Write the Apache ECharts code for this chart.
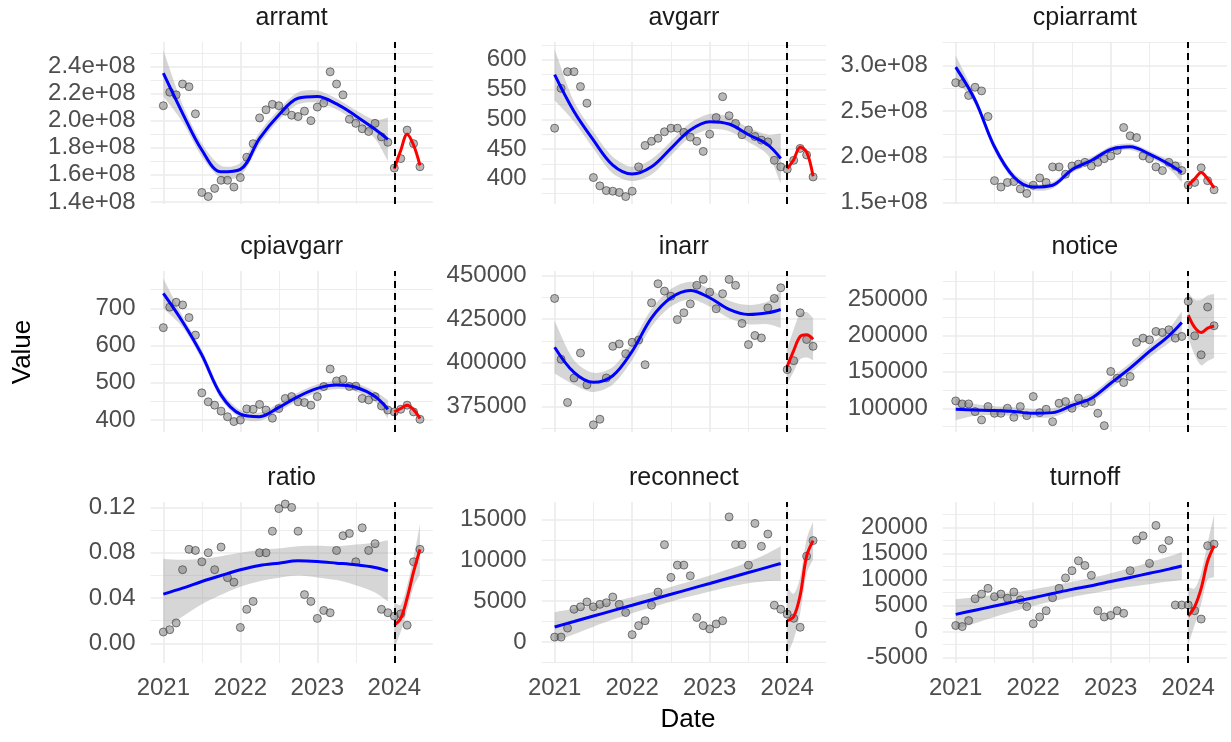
<!DOCTYPE html>
<html><head><meta charset="utf-8">
<script src="https://cdn.jsdelivr.net/npm/echarts@6/dist/echarts.min.js"></script>
<style>html,body{margin:0;padding:0;background:#fff}#c{width:1231px;height:742px}</style>
</head><body><div id="c"></div>
<script>
// ---------------- data ----------------
const dates = ['2021-01','2021-02','2021-03','2021-04','2021-05','2021-06','2021-07','2021-08','2021-09','2021-10','2021-11','2021-12',
  '2022-01','2022-02','2022-03','2022-04','2022-05','2022-06','2022-07','2022-08','2022-09','2022-10','2022-11','2022-12',
  '2023-01','2023-02','2023-03','2023-04','2023-05','2023-06','2023-07','2023-08','2023-09','2023-10','2023-11','2023-12',
  '2024-01','2024-02','2024-03','2024-04','2024-05'];
const fitDates = ['2021-01','2021-04','2021-07','2021-10','2022-01','2022-04','2022-07','2022-10','2023-01','2023-04','2023-07','2023-10','2023-12'];
const predDates = ['2024-01','2024-02','2024-03','2024-04','2024-05'];
const xTickLabels = ['2021','2022','2023','2024'];
const cutDate = '2024-01';
const panelNames = ['arramt','avgarr','cpiarramt','cpiavgarr','inarr','notice','ratio','reconnect','turnoff'];

const arramt_points = [2.11e8,2.21e8,2.19e8,2.27e8,2.25e8,2.05e8,1.47e8,1.44e8,1.50e8,1.56e8,1.56e8,1.51e8,1.58e8,1.73e8,1.83e8,2.02e8,2.08e8,2.12e8,2.11e8,2.07e8,2.04e8,2.03e8,2.07e8,2.00e8,2.10e8,2.13e8,2.36e8,2.27e8,2.19e8,2.01e8,1.98e8,1.94e8,1.92e8,1.98e8,1.88e8,1.84e8,1.65e8,1.72e8,1.93e8,1.83e8,1.66e8];
const arramt_fit = [2.35e8,2.054e8,1.783e8,1.622e8,1.640e8,1.869e8,2.042e8,2.165e8,2.178e8,2.123e8,2.035e8,1.936e8,1.862e8];
const arramt_se = [0.17e8,0.065e8,0.05e8,0.045e8,0.048e8,0.045e8,0.04e8,0.045e8,0.045e8,0.04e8,0.042e8,0.07e8,0.16e8];
const arramt_pred = [1.645e8,1.78e8,1.90e8,1.82e8,1.67e8];
const arramt_pred_se = [0.02e8,0.015e8,0.015e8,0.015e8,0.04e8];

const avgarr_points = [485,552,580,580,555,527,402,388,380,379,377,370,379,420,456,463,468,479,485,485,478,470,463,446,475,503,538,506,493,474,482,471,465,462,431,420,416,431,451,440,403];
const avgarr_fit = [575,513,465,423,408,420,451,482,496,492,474,457,434];
const avgarr_se = [43,17,14,14,12,13,12,12,13,12,12,17,42];
const avgarr_pred = [417,432,453,445,404];
const avgarr_pred_se = [4,4,4,4,6];

const cpiarramt_points = [2.81e8,2.80e8,2.67e8,2.76e8,2.72e8,2.44e8,1.74e8,1.67e8,1.72e8,1.73e8,1.65e8,1.60e8,1.69e8,1.77e8,1.72e8,1.89e8,1.89e8,1.81e8,1.90e8,1.92e8,1.94e8,1.90e8,1.94e8,1.98e8,2.01e8,2.07e8,2.32e8,2.23e8,2.21e8,2.01e8,1.98e8,1.89e8,1.85e8,1.94e8,1.90e8,1.85e8,1.69e8,1.72e8,1.88e8,1.74e8,1.64e8];
const cpiarramt_fit = [2.98e8,2.62e8,2.11e8,1.78e8,1.67e8,1.69e8,1.86e8,1.96e8,2.08e8,2.11e8,2.03e8,1.92e8,1.83e8];
const cpiarramt_se = [0.13e8,0.05e8,0.045e8,0.04e8,0.035e8,0.035e8,0.035e8,0.035e8,0.035e8,0.035e8,0.035e8,0.05e8,0.11e8];
const cpiarramt_pred = [1.69e8,1.76e8,1.83e8,1.76e8,1.66e8];
const cpiarramt_pred_se = [0.02e8,0.015e8,0.015e8,0.015e8,0.02e8];

const cpiavgarr_points = [648,703,716,709,675,628,473,449,440,424,409,396,400,430,429,442,427,405,431,458,463,449,447,440,463,490,537,505,509,490,491,458,454,463,438,427,422,429,440,422,402];
const cpiavgarr_fit = [740,664,575,467,416,409,434,463,485,494,488,463,429];
const cpiavgarr_se = [40,15,13,12,11,11,11,11,11,11,11,14,25];
const cpiavgarr_pred = [422,431,440,428,404];
const cpiavgarr_pred_se = [4,4,4,4,5];

const inarr_points = [436800,402000,377300,391300,405600,387400,364500,367700,391300,409400,410800,405200,411700,413000,398900,434300,445200,441000,438100,424700,428600,433700,444300,447700,440400,430900,439500,447700,444300,422500,410400,415600,414200,431400,436800,442900,396100,401200,428600,413300,409400];
const inarr_fit = [408900,394500,388800,392600,406600,425700,437200,441400,437200,430500,427600,428600,430500];
const inarr_se = [15000,7000,5500,5000,5000,5000,5000,5000,5000,5000,5500,6500,10500];
const inarr_pred = [398000,407000,415000,416000,413500];
const inarr_pred_se = [10000,12000,13000,13000,12000];

const notice_points = [110100,106000,106000,95400,84000,102300,93100,93100,100000,87600,102300,89900,116100,94000,98600,81600,106900,109200,100000,113800,106900,109200,93100,76100,150500,141300,135300,143600,190400,196300,194000,205500,204100,207800,196300,198600,246800,199500,173400,239000,213300];
const notice_fit = [98600,97700,96800,95400,93100,94000,104000,113800,134400,155000,178000,199500,217900];
const notice_se = [15000,8000,6000,6000,6000,6000,6000,6000,6500,7000,8000,10000,15000];
const notice_pred = [228000,211000,204000,210000,213000];
const notice_pred_se = [31000,38000,45000,45000,44000];

const ratio_points = [0.010,0.012,0.018,0.065,0.083,0.082,0.072,0.080,0.065,0.085,0.058,0.054,0.014,0.030,0.037,0.080,0.080,0.099,0.119,0.123,0.120,0.099,0.043,0.037,0.022,0.029,0.027,0.082,0.095,0.097,0.072,0.102,0.082,0.088,0.030,0.027,0.024,0.026,0.016,0.072,0.083];
const ratio_fit = [0.0434,0.0487,0.0546,0.0599,0.0649,0.0687,0.0708,0.0728,0.0722,0.0708,0.0693,0.0669,0.0640];
const ratio_se = [0.031,0.025,0.020,0.017,0.015,0.014,0.013,0.013,0.014,0.015,0.018,0.022,0.027];
const ratio_pred = [0.016,0.022,0.040,0.063,0.083];
const ratio_pred_se = [0.02,0.012,0.011,0.013,0.022];

const reconnect_points = [600,600,1700,4000,4300,4900,4300,4600,4800,5500,4600,3600,900,2000,2600,4500,6100,11900,7900,9400,9400,8100,3000,2000,1600,2200,2600,15300,11900,11900,9400,14500,11700,13200,4500,4000,3400,2900,1800,10500,12400];
const reconnect_fit = [1840,2500,3170,3840,4500,5170,5830,6500,7160,7830,8490,9160,9600];
const reconnect_se = [1800,1550,1300,1100,980,920,900,920,980,1100,1300,1700,2100];
const reconnect_pred = [2600,3100,5700,10500,12400];
const reconnect_pred_se = [4100,2800,2200,2100,2300];

const turnoff_points = [1150,960,2100,6300,7200,8300,6700,7200,6400,7600,6100,4800,1500,2800,4000,6500,8300,10300,11700,13600,12700,10800,4000,2800,3100,4000,3500,11700,17600,18400,13100,20400,15900,17500,5100,5100,5100,4000,2400,16500,16800];
const turnoff_fit = [3300,4100,4900,5700,6500,7300,8100,8800,9600,10400,11200,12000,12600];
const turnoff_se = [2900,2500,2100,1800,1600,1500,1450,1500,1600,1800,2100,2400,2700];
const turnoff_pred = [3000,4800,8300,13500,16500];
const turnoff_pred_se = [5500,3500,3000,3500,6000];

// ---------------- layout / options ----------------
const sci = v => (v / 1e8).toFixed(1) + 'e+08';
const int = v => String(Math.round(v));
const dp2 = v => v.toFixed(2);
const panels = [
  {pts: arramt_points, fit: arramt_fit, se: arramt_se, pred: arramt_pred, pse: arramt_pred_se, min: 1.385e8, max: 2.58e8, step: 0.2e8, fmt: sci},
  {pts: avgarr_points, fit: avgarr_fit, se: avgarr_se, pred: avgarr_pred, pse: avgarr_pred_se, min: 357.5, max: 630, step: 50, fmt: int},
  {pts: cpiarramt_points, fit: cpiarramt_fit, se: cpiarramt_se, pred: cpiarramt_pred, pse: cpiarramt_pred_se, min: 1.485e8, max: 3.254e8, step: 0.5e8, fmt: sci},
  {pts: cpiavgarr_points, fit: cpiavgarr_fit, se: cpiavgarr_se, pred: cpiavgarr_pred, pse: cpiavgarr_pred_se, min: 368, max: 800, step: 100, fmt: int},
  {pts: inarr_points, fit: inarr_fit, se: inarr_se, pred: inarr_pred, pse: inarr_pred_se, min: 360400, max: 452500, step: 25000, fmt: int},
  {pts: notice_points, fit: notice_fit, se: notice_se, pred: notice_pred, pse: notice_pred_se, min: 67400, max: 288500, step: 50000, fmt: int},
  {pts: ratio_points, fit: ratio_fit, se: ratio_se, pred: ratio_pred, pse: ratio_pred_se, min: -0.0174, max: 0.1248, step: 0.04, fmt: dp2},
  {pts: reconnect_points, fit: reconnect_fit, se: reconnect_se, pred: reconnect_pred, pse: reconnect_pred_se, min: -2570, max: 17120, step: 5000, fmt: int},
  {pts: turnoff_points, fit: turnoff_fit, se: turnoff_se, pred: turnoff_pred, pse: turnoff_pred_se, min: -6050, max: 24900, step: 5000, fmt: int}
];

const colLeft = [150.5, 541.7, 942.8];
const colWidth = [282.3, 284.3, 284.2];
const rowTop = [42, 271, 502];
const rowHeight = [162, 161, 161];

const dec = s => { const p = s.split('-').map(Number); return p[0] + (p[1] - 1) / 12; };
const xs = dates.map(dec), fx = fitDates.map(dec), px = predDates.map(dec);
const xCut = dec(cutDate);

const FONT = '"Liberation Sans", Arial, Helvetica, sans-serif';
const GRID = '#ebebeb';
const BAND = 'rgba(153,153,153,0.4)';
const onStep = (v, step) => { const k = v / step; return Math.abs(k - Math.round(k)) < 1e-6; };

const grids = [], xAxes = [], yAxes = [], series = [], graphics = [];
panels.forEach((p, i) => {
  const c = i % 3, r = Math.floor(i / 3);
  grids.push({left: colLeft[c], top: rowTop[r], width: colWidth[c], height: rowHeight[r], containLabel: false});
  xAxes.push({
    type: 'value', gridIndex: i, min: dec('2021-01') - 2 / 12, max: dec('2024-05') + 2 / 12,
    minInterval: 1, maxInterval: 1,
    axisLine: {show: false}, axisTick: {show: false},
    axisLabel: {show: r === 2, margin: 13, color: '#4d4d4d', fontSize: 24, fontFamily: FONT,
      showMinLabel: false, showMaxLabel: false,
      formatter: v => { const k = Math.round(v); return (Math.abs(v - k) < 1e-6 && xTickLabels.includes(String(k))) ? String(k) : ''; }},
    splitLine: {show: true, showMinLine: false, showMaxLine: false, lineStyle: {color: GRID, width: 1.6}},
    minorTick: {show: false, splitNumber: 2},
    minorSplitLine: {show: true, lineStyle: {color: GRID, width: 0.9}}
  });
  yAxes.push({
    type: 'value', gridIndex: i, min: p.min, max: p.max, minInterval: p.step, maxInterval: p.step, scale: true,
    axisLine: {show: false}, axisTick: {show: false},
    axisLabel: {margin: 15, color: '#4d4d4d', fontSize: 24, fontFamily: FONT, showMinLabel: false, showMaxLabel: false,
      formatter: v => onStep(v, p.step) ? p.fmt(Math.round(v / p.step) * p.step) : ''},
    splitLine: {show: true, showMinLine: false, showMaxLine: false, lineStyle: {color: GRID, width: 1.6}},
    minorTick: {show: false, splitNumber: 2},
    minorSplitLine: {show: true, lineStyle: {color: GRID, width: 0.9}}
  });
  const common = {xAxisIndex: i, yAxisIndex: i, silent: true, animation: false};
  // confidence band: polygon through upper edge then lower edge, projected by the axes.
  // Corner points are repeated so the smoothed outline keeps straight vertical ends.
  const band = (xv, mid, se) => Object.assign({
    type: 'custom', z: 2, clip: true,
    data: [[xv[0], mid[0]]],
    renderItem: (params, api) => {
      const up = xv.map((x, j) => api.coord([x, mid[j] + se[j]]));
      const lo = xv.map((x, j) => api.coord([x, mid[j] - se[j]])).reverse();
      const n = up.length;
      const pts = [up[0], ...up, up[n - 1], lo[0], ...lo, lo[n - 1]];
      return {type: 'polygon', shape: {points: pts, smooth: 0.3}, style: {fill: BAND, stroke: null}};
    }
  }, common);
  series.push(band(fx, p.fit, p.se));
  series.push(band(px, p.pred, p.pse));
  series.push(Object.assign({type: 'scatter', symbolSize: 8, z: 3,
    itemStyle: {color: 'rgba(120,120,120,0.65)', borderColor: 'rgba(65,65,65,0.85)', borderWidth: 1},
    data: xs.map((x, j) => [x, p.pts[j]])}, common));
  series.push(Object.assign({type: 'line', smooth: 0.35, symbol: 'none', z: 4,
    lineStyle: {color: '#0000ff', width: 3}, data: fx.map((x, j) => [x, p.fit[j]])}, common));
  series.push(Object.assign({type: 'line', smooth: 0.35, symbol: 'none', z: 4,
    lineStyle: {color: '#ff0000', width: 3}, data: px.map((x, j) => [x, p.pred[j]]),
    markLine: {silent: true, animation: false, symbol: ['none', 'none'], label: {show: false},
      lineStyle: {color: '#000', type: [7, 5], width: 2}, data: [{xAxis: xCut}]}}, common));
  graphics.push({type: 'text', x: colLeft[c] + colWidth[c] / 2, y: rowTop[r] - 24,
    style: {text: panelNames[i], fill: '#1a1a1a', font: '25px ' + FONT, align: 'center', verticalAlign: 'middle'}});
});
graphics.push({type: 'text', x: 23, y: 352, rotation: Math.PI / 2,
  style: {text: 'Value', fill: '#000', font: '26px ' + FONT, align: 'center', verticalAlign: 'middle'}});
graphics.push({type: 'text', x: 688, y: 720,
  style: {text: 'Date', fill: '#000', font: '26px ' + FONT, align: 'center', verticalAlign: 'middle'}});

const chart = echarts.init(document.getElementById('c'), null, {renderer: 'canvas'});
chart.setOption({
  animation: false, backgroundColor: '#fff',
  textStyle: {fontFamily: FONT},
  grid: grids, xAxis: xAxes, yAxis: yAxes, series: series, graphic: graphics
});
</script></body></html>
